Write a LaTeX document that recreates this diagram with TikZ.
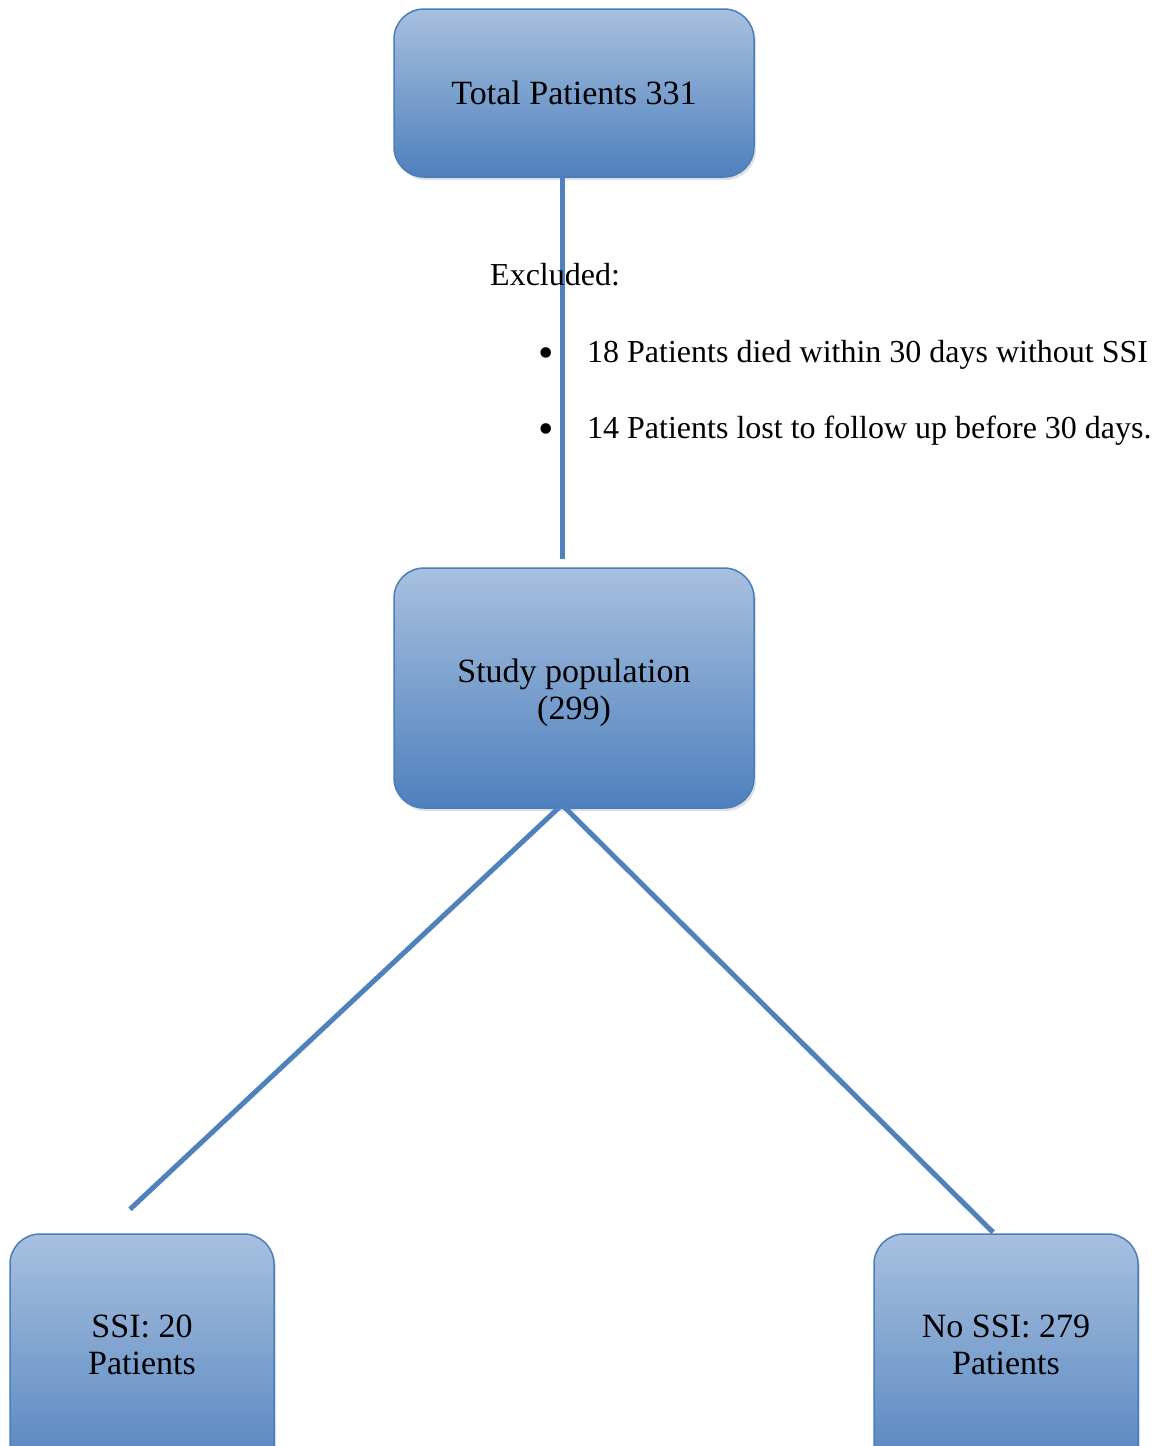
\documentclass[tikz,border=0pt]{standalone}
\usepackage{fontspec}
\setmainfont{Liberation Serif}
\usetikzlibrary{positioning,shadows}
\definecolor{boxtop}{HTML}{A8C0DF}
\definecolor{boxbot}{HTML}{4E80BD}
\definecolor{boxline}{HTML}{4A7EBB}
\definecolor{linkcol}{HTML}{4F81BD}

\begin{document}
\begin{tikzpicture}[x=1pt,y=-1pt]
\tikzstyle{main}=[rectangle, rounded corners=30pt, draw=boxline, line width=1.5pt, top color=boxtop, bottom color=boxbot, drop shadow={shadow xshift=2pt, shadow yshift=-3pt, opacity=0.25}, align=center, font=\fontsize{34}{37}\selectfont, minimum width=360pt]
\tikzstyle{connect}=[line width=5pt, draw=linkcol]
\tikzstyle{words}=[inner sep=0pt, anchor=base west, font=\fontsize{32}{38}\selectfont]

\useasboundingbox (0,0) rectangle (1154,1446);
\clip (0,0) rectangle (1154,1446);

\node[main, minimum height=168pt] at (574,93) (total) {Total Patients 331};
\node[main, minimum height=240pt] at (574,688) (study) {\raisebox{-12pt}[0pt][0pt]{\begin{tabular}{@{}c@{}}Study population\\(299)\end{tabular}}};
\node[main, minimum width=264pt, minimum height=260pt] at (142,1364) (ssi) {\raisebox{9.5pt}[0pt][0pt]{\begin{tabular}{@{}c@{}}SSI: 20\\Patients\end{tabular}}};
\node[main, minimum width=264pt, minimum height=260pt] at (1006,1364) (nossi) {\raisebox{9.5pt}[0pt][0pt]{\begin{tabular}{@{}c@{}}No SSI: 279\\Patients\end{tabular}}};

\path ([xshift=-12pt]total.south) edge [connect] ([xshift=-12pt,yshift=8pt]study.north);
\path ([xshift=-12pt,yshift=4pt]study.south) edge [connect] ([xshift=-12pt,yshift=24pt]ssi.north);
\path ([xshift=-12pt,yshift=4pt]study.south) edge [connect] ([xshift=-13pt,yshift=1pt]nossi.north);

\node[words] at (490,285) (excluded) {Excluded:};
\node[words] at (538,367) (dotA) {{\fontsize{44}{44}\selectfont\textbullet}};
\node[words] at (587,362) (died) {18 Patients died within 30 days without SSI};
\node[words] at (538,443) (dotB) {{\fontsize{44}{44}\selectfont\textbullet}};
\node[words] at (587,438) (lost) {14 Patients lost to follow up before 30 days.};
\end{tikzpicture}
\end{document}
